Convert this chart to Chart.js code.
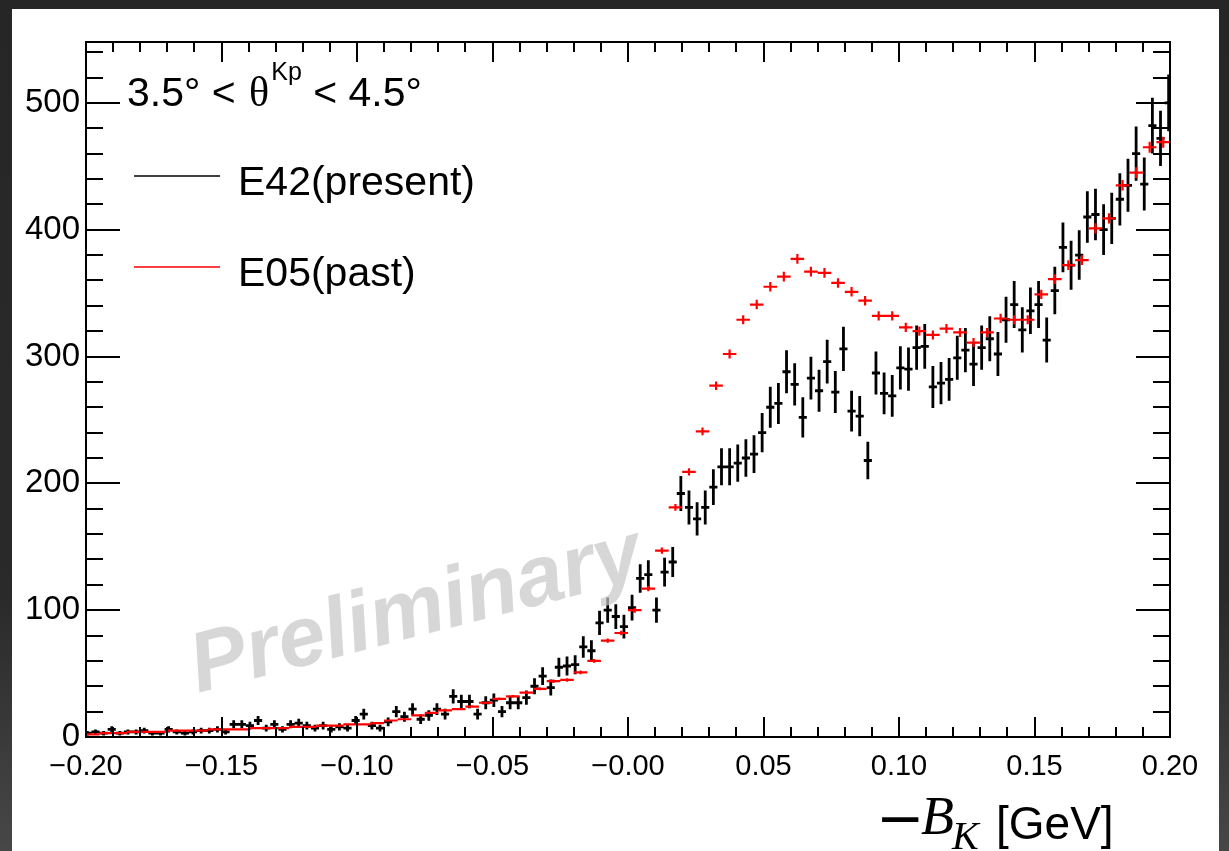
<!DOCTYPE html>
<html>
<head>
<meta charset="utf-8">
<script src="https://cdn.jsdelivr.net/npm/chart.js@4.4.1/dist/chart.umd.min.js"></script>
<style>
  html, body { margin: 0; padding: 0; width: 1229px; height: 851px; overflow: hidden;
    background: linear-gradient(#262626 0%, #2a2a2a 70%, #474747 100%); }
  #card { position: absolute; left: 12px; top: 9px; width: 1207px; height: 842px; background: #ffffff; }
  #wrap { position: absolute; left: 0; top: 0; width: 1229px; height: 851px; }
</style>
</head>
<body>
<div id="card"></div>
<div id="wrap"><canvas id="c" width="1229" height="851"></canvas></div>
<script>
// E42 (present) histogram: 134 bins of 0.003 GeV from -0.201 to 0.201
const e42Edges = [-0.201, 0.201];
const e42Counts = [
  3, 4, 3, 6, 3, 4, 4, 5, 3, 3, 6, 4, 3, 4, 5, 5, 6, 4,
  10, 10, 9, 13, 7, 10, 6, 10, 11, 9, 7, 9, 6, 8, 7, 13,
  18, 9, 7, 12, 20, 16, 22, 14, 17, 22, 18, 32, 28, 28, 18, 27,
  29, 20, 27, 27, 31, 40, 48, 39, 55, 56, 57, 71, 68, 90, 100, 95, 87,
  102, 125, 128, 100, 130, 138, 192, 181, 172, 181, 197, 213, 213, 216, 220, 223,
  240, 260, 263, 288, 278, 252, 283, 273, 296, 272, 306, 257, 253, 218,
  287, 271, 269, 291, 290, 307, 308, 276, 279, 282, 299, 305, 294, 307, 314, 302,
  329, 341, 321, 336, 341, 313, 352, 386, 372, 380, 410, 412, 400, 409, 424, 435,
  460, 436, 482, 472, 500
];

// E05 (past) histogram: 80 bins of 0.005 GeV from -0.2 to 0.2
const e05Edges = [-0.2, 0.2];
const e05Counts = [
  2, 3, 3, 4, 4, 4, 5, 5, 5, 6, 6, 6, 7, 7, 7, 8, 8, 9, 9, 10,
  10, 11, 13, 14, 17, 19, 21, 22, 24, 27, 30, 32, 35, 38, 44, 45, 51, 60, 76, 82,
  100, 117, 147, 181, 209, 241, 277, 302, 329, 341, 355, 363, 377, 367, 366, 358, 351, 344, 332, 332,
  323, 320, 317, 322, 319, 311, 319, 330, 329, 329, 349, 361, 372, 376, 401, 409, 435, 445, 465, 469
];
// E05 is rescaled to the E42 yield, so its bars are shorter than sqrt(N)
const e05ErrScale = 0.2;

const xTickLabels = ['\u22120.20', '\u22120.15', '\u22120.10', '\u22120.05', '\u22120.00', '0.05', '0.10', '0.15', '0.20'];
const yTickLabels = ['0', '100', '200', '300', '400', '500'];

const cutLabel = ['3.5\u00b0 < ', '\u03b8', 'Kp', ' < 4.5\u00b0'];
const seriesNames = ['E42(present)', 'E05(past)'];
const watermark = 'Preliminary';

function toPoints(edges, counts, errScale) {
  const w = (edges[1] - edges[0]) / counts.length;
  return counts.map((c, i) => ({ x: edges[0] + (i + 0.5) * w, y: c, w: w, e: Math.sqrt(c) * errScale }));
}

const SANS = '"Liberation Sans", Arial, Helvetica, sans-serif';
const SERIF = '"Liberation Serif", "Times New Roman", serif';

// Histogram markers: horizontal bin-width bar plus vertical error bar
const errorBarPlugin = {
  id: 'errorBars',
  afterDatasetsDraw(chart) {
    const ctx = chart.ctx, xs = chart.scales.x, ys = chart.scales.y, a = chart.chartArea;
    ctx.save();
    ctx.beginPath();
    ctx.rect(a.left, a.top, a.right - a.left, a.bottom - a.top);
    ctx.clip();
    chart.data.datasets.forEach(ds => {
      ctx.strokeStyle = ds.borderColor;
      ctx.lineWidth = ds.borderWidth;
      ctx.lineCap = 'butt';
      ctx.beginPath();
      ds.data.forEach(p => {
        const x0 = xs.getPixelForValue(p.x - p.w / 2);
        const x1 = xs.getPixelForValue(p.x + p.w / 2);
        const xc = xs.getPixelForValue(p.x);
        const yc = ys.getPixelForValue(p.y);
        const yl = ys.getPixelForValue(p.y - p.e);
        const yh = ys.getPixelForValue(p.y + p.e);
        ctx.moveTo(x0, yc); ctx.lineTo(x1, yc);
        if (Math.abs(yl - yh) > 0.5) { ctx.moveTo(xc, yl); ctx.lineTo(xc, yh); }
      });
      ctx.stroke();
    });
    ctx.restore();

    // watermark laid over the data
    ctx.save();
    ctx.translate(a.left + 112, a.bottom - 44);
    ctx.rotate(-14.5 * Math.PI / 180);
    ctx.font = 'italic bold 85px ' + SANS;
    ctx.fillStyle = 'rgba(198,198,198,0.7)';
    ctx.textBaseline = 'alphabetic';
    ctx.fillText(watermark, 0, 0);
    ctx.restore();
  }
};

// Frame with inward ticks on all four sides, labels and axis title
const framePlugin = {
  id: 'frame',
  afterDraw(chart) {
    const ctx = chart.ctx, xs = chart.scales.x, ys = chart.scales.y, a = chart.chartArea;
    ctx.save();
    ctx.strokeStyle = '#000';
    ctx.lineWidth = 2;
    ctx.strokeRect(a.left, a.top, a.right - a.left, a.bottom - a.top);
    ctx.beginPath();
    const xt = xs.ticks.map(t => t.value);
    const xStep = xt[1] - xt[0];
    for (let i = 0; i < xt.length; i++) {
      for (let m = 0; m < 5; m++) {
        const v = xt[i] + m * xStep / 5;
        if (v > xs.max + 1e-9) break;
        const px = Math.round(xs.getPixelForValue(v));
        const len = m === 0 ? 20 : 10;
        ctx.moveTo(px, a.bottom); ctx.lineTo(px, a.bottom - len);
        ctx.moveTo(px, a.top); ctx.lineTo(px, a.top + len);
      }
    }
    const yt = ys.ticks.map(t => t.value);
    const yStep = yt[1] - yt[0];
    for (let i = 0; i < yt.length; i++) {
      for (let m = 0; m < 5; m++) {
        const v = yt[i] + m * yStep / 5;
        if (v > ys.max) break;
        const py = Math.round(ys.getPixelForValue(v));
        const len = m === 0 ? 34 : 17;
        ctx.moveTo(a.left, py); ctx.lineTo(a.left + len, py);
        ctx.moveTo(a.right, py); ctx.lineTo(a.right - len, py);
      }
    }
    ctx.stroke();

    // angular cut label
    ctx.fillStyle = '#000';
    ctx.textBaseline = 'alphabetic';
    let x = a.left + 41;
    const base = a.top + 64;
    ctx.font = '41px ' + SANS;
    ctx.fillText(cutLabel[0], x, base); x += ctx.measureText(cutLabel[0]).width + 2;
    ctx.font = '42px ' + SERIF;
    ctx.fillText(cutLabel[1], x, base); x += ctx.measureText(cutLabel[1]).width + 2;
    ctx.font = '25px ' + SANS;
    ctx.fillText(cutLabel[2], x, base - 26); x += ctx.measureText(cutLabel[2]).width;
    ctx.font = '41px ' + SANS;
    ctx.fillText(cutLabel[3], x, base);

    // legend
    const colors = chart.data.datasets.map(d => d.borderColor);
    const rows = [a.top + 134, a.top + 225];
    ctx.lineWidth = 1.5;
    rows.forEach((ly, i) => {
      ctx.strokeStyle = colors[i];
      ctx.beginPath();
      ctx.moveTo(a.left + 48, ly); ctx.lineTo(a.left + 134, ly);
      ctx.stroke();
      ctx.font = '41px ' + SANS;
      ctx.fillText(seriesNames[i], a.left + 152, ly + 19);
    });

    // x-axis title: -B_K [GeV]
    const tb = a.bottom + 100;
    ctx.font = '58px "DejaVu Sans", sans-serif';
    ctx.fillText('\u2212', a.right - 294, tb + 1);
    ctx.font = 'italic 54px ' + SERIF;
    ctx.fillText('B', a.right - 249, tb - 3);
    ctx.font = 'italic 40px ' + SERIF;
    ctx.fillText('K', a.right - 218, tb + 12);
    ctx.font = '46px ' + SANS;
    ctx.fillText('[GeV]', a.right - 174, tb + 2);
    ctx.restore();
  }
};

new Chart(document.getElementById('c'), {
  type: 'scatter',
  data: {
    datasets: [
      { label: seriesNames[0], data: toPoints(e42Edges, e42Counts, 1), borderColor: '#000000', backgroundColor: '#000000', borderWidth: 2.8, pointRadius: 0 },
      { label: seriesNames[1], data: toPoints(e05Edges, e05Counts, e05ErrScale), borderColor: '#ff0000', backgroundColor: '#ff0000', borderWidth: 2.2, pointRadius: 0 }
    ]
  },
  options: {
    responsive: false,
    devicePixelRatio: 1,
    animation: false,
    events: [],
    layout: { padding: { left: 0, right: 59, top: 42, bottom: 0 } },
    plugins: { legend: { display: false }, tooltip: { enabled: false } },
    scales: {
      x: {
        type: 'linear', min: -0.2, max: 0.2,
        grid: { display: false, drawTicks: false },
        border: { display: false },
        ticks: {
          stepSize: 0.05, autoSkip: false, maxRotation: 0, includeBounds: false,
          padding: 13, color: '#000', font: { family: SANS, size: 29 },
          callback: (v, i) => xTickLabels[i]
        },
        afterFit: s => { s.height = 114; }
      },
      y: {
        type: 'linear', min: 0, max: 548,
        grid: { display: false, drawTicks: false },
        border: { display: false },
        ticks: {
          stepSize: 100, includeBounds: false, padding: 6, color: '#000',
          font: { family: SANS, size: 33 },
          callback: (v, i) => yTickLabels[i]
        },
        afterFit: s => { s.width = 86; }
      }
    }
  },
  plugins: [errorBarPlugin, framePlugin]
});
</script>
</body>
</html>
